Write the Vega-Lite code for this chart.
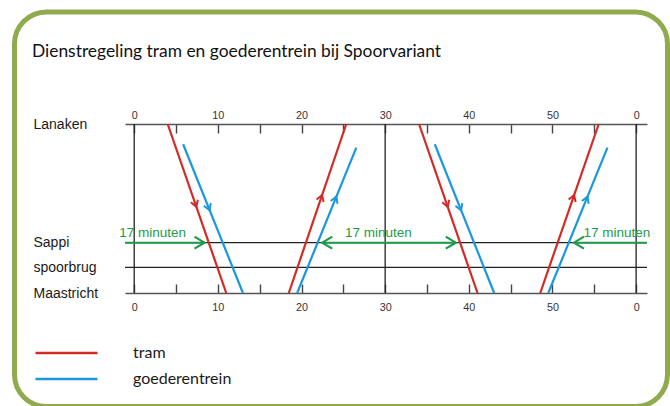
{
  "$schema": "https://vega.github.io/schema/vega-lite/v6.json",
  "width": 522,
  "height": 169,
  "autosize": {"type": "none"},
  "padding": {"left": 125, "top": 124, "right": 23, "bottom": 113},
  "background": "#ffffff",
  "title": {
    "text": "Dienstregeling tram en goederentrein bij Spoorvariant",
    "anchor": "start",
    "frame": "group",
    "dx": -93,
    "offset": -51,
    "font": "Lato",
    "fontSize": 17.4,
    "fontWeight": "normal",
    "color": "#111111"
  },
  "config": {
    "view": {"stroke": null},
    "axis": {"grid": false, "labelFont": "Liberation Sans"}
  },
  "datasets": {
    "grid": [{"t": 0}, {"t": 30}, {"t": 60}],
    "stations": [
      {"station": "Sappi", "pos": 0.298},
      {"station": "spoorbrug", "pos": 0.152}
    ],
    "greenlines": [
      {"seg": "a", "t": -1.1, "pos": 0.298},
      {"seg": "a", "t": 8.4, "pos": 0.298},
      {"seg": "b", "t": 22.48, "pos": 0.298},
      {"seg": "b", "t": 38.44, "pos": 0.298},
      {"seg": "c", "t": 52.57, "pos": 0.298},
      {"seg": "c", "t": 61.3, "pos": 0.298}
    ],
    "greenheads": [
      {"t": 8.4, "pos": 0.298, "dir": "right"},
      {"t": 38.44, "pos": 0.298, "dir": "right"},
      {"t": 22.48, "pos": 0.298, "dir": "left"},
      {"t": 52.57, "pos": 0.298, "dir": "left"}
    ],
    "greentext": [
      {"t": 2.2, "pos": 0.298, "label": "17 minuten"},
      {"t": 29.2, "pos": 0.298, "label": "17 minuten"},
      {"t": 57.7, "pos": 0.298, "label": "17 minuten"}
    ],
    "trips": [
      {"series": "tram", "trip": "R1", "t": 4.0, "pos": 1},
      {"series": "tram", "trip": "R1", "t": 11.0, "pos": 0},
      {"series": "tram", "trip": "R2", "t": 18.48, "pos": 0},
      {"series": "tram", "trip": "R2", "t": 25.35, "pos": 1},
      {"series": "tram", "trip": "R3", "t": 34.05, "pos": 1},
      {"series": "tram", "trip": "R3", "t": 41.04, "pos": 0},
      {"series": "tram", "trip": "R4", "t": 48.54, "pos": 0},
      {"series": "tram", "trip": "R4", "t": 55.53, "pos": 1},
      {"series": "goederentrein", "trip": "B1", "t": 5.85, "pos": 0.88},
      {"series": "goederentrein", "trip": "B1", "t": 13.0, "pos": 0},
      {"series": "goederentrein", "trip": "B2", "t": 19.48, "pos": 0},
      {"series": "goederentrein", "trip": "B2", "t": 26.55, "pos": 0.86},
      {"series": "goederentrein", "trip": "B3", "t": 35.93, "pos": 0.88},
      {"series": "goederentrein", "trip": "B3", "t": 43.03, "pos": 0},
      {"series": "goederentrein", "trip": "B4", "t": 49.5, "pos": 0},
      {"series": "goederentrein", "trip": "B4", "t": 56.57, "pos": 0.86}
    ],
    "heads": [
      {"series": "tram", "dir": "down", "t": 7.43, "pos": 0.51},
      {"series": "tram", "dir": "down", "t": 37.48, "pos": 0.51},
      {"series": "goederentrein", "dir": "down", "t": 9.02, "pos": 0.49},
      {"series": "goederentrein", "dir": "down", "t": 39.08, "pos": 0.49},
      {"series": "tram", "dir": "up", "t": 22.46, "pos": 0.58},
      {"series": "tram", "dir": "up", "t": 52.59, "pos": 0.58},
      {"series": "goederentrein", "dir": "up", "t": 24.17, "pos": 0.57},
      {"series": "goederentrein", "dir": "up", "t": 54.19, "pos": 0.57}
    ]
  },
  "layer": [
    {
      "data": {"values": [{}]},
      "mark": {"type": "rect", "fill": "transparent", "fillOpacity": 0, "stroke": "#8fab4e", "strokeWidth": 5, "cornerRadius": 32},
      "encoding": {
        "x": {"datum": -14.31, "type": "quantitative", "scale": {"domain": [-1.1, 61.3], "nice": false, "zero": false}, "axis": null},
        "x2": {"datum": 63.75},
        "y": {"datum": 1.663, "type": "quantitative", "scale": {"domain": [0, 1], "nice": false, "zero": false}, "axis": null},
        "y2": {"datum": -0.672}
      }
    },
    {
      "data": {"name": "grid"},
      "mark": {"type": "rule", "color": "#222222", "strokeWidth": 1.3},
      "encoding": {
        "x": {
          "field": "t", "type": "quantitative",
          "scale": {"domain": [-1.1, 61.3], "nice": false, "zero": false},
          "axis": {
            "orient": "bottom", "title": null,
            "values": [0, 5, 10, 15, 20, 25, 30, 35, 40, 45, 50, 55, 60],
            "labelExpr": "datum.value % 10 != 0 ? '' : (datum.value == 60 ? '0' : datum.label)",
            "tickSize": -9, "tickWidth": 1.4, "tickColor": "#444444",
            "domainColor": "#555555", "domainWidth": 1.6,
            "labelFontSize": 10.8, "labelColor": "#333333", "labelPadding": 17,
            "labelFlush": false, "labelOverlap": false
          }
        }
      }
    },
    {
      "data": {"name": "stations"},
      "mark": {"type": "rule", "color": "#222222", "strokeWidth": 1.3},
      "encoding": {
        "y": {"field": "pos", "type": "quantitative", "scale": {"domain": [0, 1], "nice": false, "zero": false}, "axis": null}
      }
    },
    {
      "data": {"name": "greenlines"},
      "mark": {"type": "line", "color": "#1e9a48", "strokeWidth": 2},
      "encoding": {
        "x": {"field": "t", "type": "quantitative", "scale": {"domain": [-1.1, 61.3], "nice": false, "zero": false}, "axis": null},
        "y": {"field": "pos", "type": "quantitative", "scale": {"domain": [0, 1], "nice": false, "zero": false}, "axis": null},
        "detail": {"field": "seg"}
      }
    },
    {
      "data": {"name": "greenheads"},
      "transform": [{"filter": "datum.dir == 'right'"}],
      "mark": {"type": "point", "shape": "M-0.6,-1L0,0L0.6,-1", "filled": false, "stroke": "#1e9a48", "strokeWidth": 2.2, "size": 400, "angle": 270, "opacity": 1},
      "encoding": {
        "x": {"field": "t", "type": "quantitative", "scale": {"domain": [-1.1, 61.3], "nice": false, "zero": false}, "axis": null},
        "y": {"field": "pos", "type": "quantitative", "scale": {"domain": [0, 1], "nice": false, "zero": false}, "axis": null}
      }
    },
    {
      "data": {"name": "greenheads"},
      "transform": [{"filter": "datum.dir == 'left'"}],
      "mark": {"type": "point", "shape": "M-0.6,-1L0,0L0.6,-1", "filled": false, "stroke": "#1e9a48", "strokeWidth": 2.2, "size": 400, "angle": 90, "opacity": 1},
      "encoding": {
        "x": {"field": "t", "type": "quantitative", "scale": {"domain": [-1.1, 61.3], "nice": false, "zero": false}, "axis": null},
        "y": {"field": "pos", "type": "quantitative", "scale": {"domain": [0, 1], "nice": false, "zero": false}, "axis": null}
      }
    },
    {
      "data": {"name": "greentext"},
      "mark": {"type": "text", "font": "Liberation Sans", "fontSize": 13.5, "color": "#1e9a48", "align": "center", "baseline": "alphabetic", "dy": -5.5},
      "encoding": {
        "x": {"field": "t", "type": "quantitative", "scale": {"domain": [-1.1, 61.3], "nice": false, "zero": false}, "axis": null},
        "y": {"field": "pos", "type": "quantitative", "scale": {"domain": [0, 1], "nice": false, "zero": false}, "axis": null},
        "text": {"field": "label"}
      }
    },
    {
      "data": {"name": "trips"},
      "mark": {"type": "line", "strokeWidth": 2.2},
      "encoding": {
        "x": {
          "field": "t", "type": "quantitative",
          "scale": {"domain": [-1.1, 61.3], "nice": false, "zero": false},
          "axis": {
            "orient": "top", "title": null,
            "values": [0, 5, 10, 15, 20, 25, 30, 35, 40, 45, 50, 55, 60],
            "labelExpr": "datum.value % 10 != 0 ? '' : (datum.value == 60 ? '0' : datum.label)",
            "tickSize": -9, "tickWidth": 1.4, "tickColor": "#444444",
            "domainColor": "#555555", "domainWidth": 1.6,
            "labelFontSize": 10.8, "labelColor": "#333333", "labelPadding": 13,
            "labelFlush": false, "labelOverlap": false
          }
        },
        "y": {
          "field": "pos", "type": "quantitative",
          "scale": {"domain": [0, 1], "nice": false, "zero": false},
          "axis": {
            "orient": "left", "title": null, "domain": false, "ticks": false,
            "values": [1, 0.298, 0.152, 0],
            "labelExpr": "datum.value == 1 ? 'Lanaken' : (datum.value == 0 ? 'Maastricht' : (datum.value > 0.2 ? 'Sappi' : 'spoorbrug'))",
            "labelAlign": "left", "labelBaseline": "middle", "labelPadding": 92,
            "labelFont": "Liberation Sans", "labelFontSize": 14, "labelColor": "#1a1a1a",
            "labelFlush": false, "labelOverlap": false
          }
        },
        "detail": {"field": "trip"},
        "color": {
          "field": "series", "type": "nominal",
          "scale": {"domain": ["tram", "goederentrein"], "range": ["#d42a25", "#1b98dc"]},
          "legend": {
            "title": null, "orient": "none", "legendX": -66.5, "legendY": 221,
            "padding": 0,
            "symbolType": "M-6.2,0L6.2,0", "symbolSize": 100, "symbolStrokeWidth": 2.6,
            "labelOffset": 58.5, "labelFont": "Lato", "labelFontSize": 16, "labelColor": "#1a1a1a",
            "rowPadding": 10
          }
        }
      }
    },
    {
      "data": {"name": "heads"},
      "transform": [{"filter": "datum.series == 'tram' && datum.dir == 'down'"}],
      "mark": {"type": "point", "shape": "M-0.6,-1L0,0L0.6,-1", "filled": false, "stroke": "#d42a25", "strokeWidth": 2, "size": 150, "angle": 341, "opacity": 1},
      "encoding": {
        "x": {"field": "t", "type": "quantitative", "scale": {"domain": [-1.1, 61.3], "nice": false, "zero": false}, "axis": null},
        "y": {"field": "pos", "type": "quantitative", "scale": {"domain": [0, 1], "nice": false, "zero": false}, "axis": null}
      }
    },
    {
      "data": {"name": "heads"},
      "transform": [{"filter": "datum.series == 'goederentrein' && datum.dir == 'down'"}],
      "mark": {"type": "point", "shape": "M-0.6,-1L0,0L0.6,-1", "filled": false, "stroke": "#1b98dc", "strokeWidth": 2, "size": 150, "angle": 338, "opacity": 1},
      "encoding": {
        "x": {"field": "t", "type": "quantitative", "scale": {"domain": [-1.1, 61.3], "nice": false, "zero": false}, "axis": null},
        "y": {"field": "pos", "type": "quantitative", "scale": {"domain": [0, 1], "nice": false, "zero": false}, "axis": null}
      }
    },
    {
      "data": {"name": "heads"},
      "transform": [{"filter": "datum.series == 'tram' && datum.dir == 'up'"}],
      "mark": {"type": "point", "shape": "M-0.6,-1L0,0L0.6,-1", "filled": false, "stroke": "#d42a25", "strokeWidth": 2, "size": 150, "angle": 199, "opacity": 1},
      "encoding": {
        "x": {"field": "t", "type": "quantitative", "scale": {"domain": [-1.1, 61.3], "nice": false, "zero": false}, "axis": null},
        "y": {"field": "pos", "type": "quantitative", "scale": {"domain": [0, 1], "nice": false, "zero": false}, "axis": null}
      }
    },
    {
      "data": {"name": "heads"},
      "transform": [{"filter": "datum.series == 'goederentrein' && datum.dir == 'up'"}],
      "mark": {"type": "point", "shape": "M-0.6,-1L0,0L0.6,-1", "filled": false, "stroke": "#1b98dc", "strokeWidth": 2, "size": 150, "angle": 202, "opacity": 1},
      "encoding": {
        "x": {"field": "t", "type": "quantitative", "scale": {"domain": [-1.1, 61.3], "nice": false, "zero": false}, "axis": null},
        "y": {"field": "pos", "type": "quantitative", "scale": {"domain": [0, 1], "nice": false, "zero": false}, "axis": null}
      }
    }
  ],
  "resolve": {"axis": {"x": "independent", "y": "independent"}}
}
